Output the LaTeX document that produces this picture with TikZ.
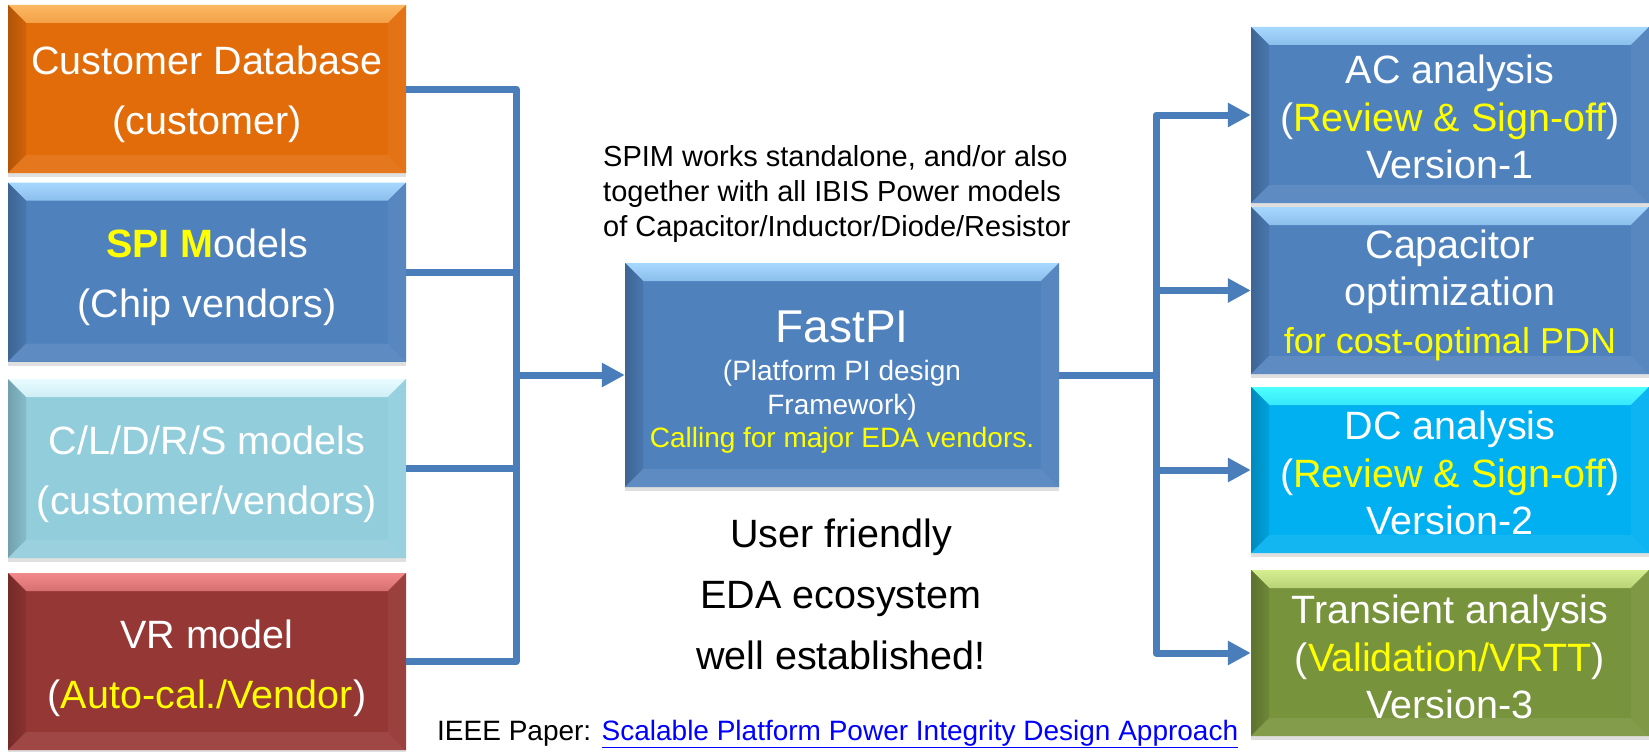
\documentclass[tikz,border=0pt]{standalone}
\usepackage{fontspec}
\setmainfont{Liberation Sans}
\usetikzlibrary{arrows.meta,shadows}

\definecolor{boxorange}{HTML}{E36C0A}
\definecolor{toporange}{HTML}{FBB862}
\definecolor{boxblue}{HTML}{4F81BD}
\definecolor{topblue}{HTML}{A6D8FF}
\definecolor{boxpale}{HTML}{92CDDC}
\definecolor{toppale}{HTML}{E8FCFF}
\definecolor{boxred}{HTML}{953735}
\definecolor{topred}{HTML}{F2898A}
\definecolor{boxcyan}{HTML}{00B0F0}
\definecolor{topcyan}{HTML}{4DFFFF}
\definecolor{boxgreen}{HTML}{77933C}
\definecolor{topgreen}{HTML}{D4EE90}
\definecolor{wire}{HTML}{4A7EBB}
\definecolor{linkblue}{HTML}{0000FF}
\definecolor{hilite}{HTML}{FFFF00}

\newcommand{\yel}[1]{\textcolor{hilite}{#1}}
\newcommand{\bevdepth}{18pt}
% pushes a box text down a little
\newcommand{\lift}[1]{\rule{0pt}{#1}}

\begin{document}
\begin{tikzpicture}[x=1pt,y=-1pt,
  bevel/.style 2 args={rectangle, inner sep=0pt, fill=#1, text=white, align=center,
    drop shadow={shadow xshift=0pt,shadow yshift=-4pt,opacity=0.25},
    path picture={
      \coordinate (bnw) at (path picture bounding box.north west);
      \coordinate (bne) at (path picture bounding box.north east);
      \coordinate (bsw) at (path picture bounding box.south west);
      \coordinate (bse) at (path picture bounding box.south east);
      \shade[top color=#2, bottom color=#2!70!#1] (bnw) -- (bne) -- ([xshift=-\bevdepth,yshift=-\bevdepth]bne) -- ([xshift=\bevdepth,yshift=-\bevdepth]bnw) -- cycle;
      \shade[left color=#1!78!black, right color=#1!92!black] (bnw) -- ([xshift=\bevdepth,yshift=-\bevdepth]bnw) -- ([xshift=\bevdepth,yshift=\bevdepth]bsw) -- (bsw) -- cycle;
      \fill[#1!92!white] (bsw) -- ([xshift=\bevdepth,yshift=\bevdepth]bsw) -- ([xshift=-\bevdepth,yshift=\bevdepth]bse) -- (bse) -- cycle;
      \fill[#1!95!white] (bse) -- ([xshift=-\bevdepth,yshift=\bevdepth]bse) -- ([xshift=-\bevdepth,yshift=-\bevdepth]bne) -- (bne) -- cycle;
    }},
  inbox/.style={minimum width=398pt, font=\fontsize{39.5}{60}\selectfont},
  outbox/.style={minimum width=398pt, font=\fontsize{39.5}{47.5}\selectfont},
  conn/.style={draw=wire, line width=7pt, line join=round},
  tip/.style={-{Triangle[length=23pt,width=23pt]}}
]
\path[use as bounding box, fill=white] (0,0) rectangle (1649,752);

% sources
\node[bevel={boxorange}{toporange}, inbox, minimum height=168pt] (cust) at (207,89) {\lift{39pt}Customer Database\\(customer)};
\node[bevel={boxblue}{topblue}, inbox, minimum height=179pt] (spim) at (207,272) {\lift{39pt}\textbf{\yel{SPI M}}odels\\(Chip vendors)};
\node[bevel={boxpale}{toppale}, inbox, minimum height=179pt] (cldrs) at (207,468.5) {\lift{41pt}C/L/D/R/S models\\(customer/vendors)};
\node[bevel={boxred}{topred}, inbox, minimum height=177pt] (vrm) at (207,661.5) {\lift{42pt}VR model\\(\yel{Auto-cal./Vendor})};

% framework
\node[bevel={boxblue}{topblue}, minimum width=434pt, minimum height=224pt, font=\fontsize{28}{33.5}\selectfont] (fastpi) at (842,375)
  {\lift{46pt}{\fontsize{46}{46}\selectfont FastPI}\\[4.5pt](Platform PI design\\Framework)\\\yel{Calling for major EDA vendors.}};

% analyses
\node[bevel={boxblue}{topblue}, outbox, minimum height=176pt] (acan) at (1450,115) {\lift{33pt}AC analysis\\(\yel{Review \& Sign-off})\\Version-1};
\node[bevel={boxblue}{topblue}, outbox, minimum height=167pt] (capopt) at (1450,290.5) {\lift{38pt}Capacitor\\optimization\\{\fontsize{36}{47.5}\selectfont\yel{for cost-optimal PDN}}};
\node[bevel={boxcyan}{topcyan}, outbox, minimum height=166pt] (dcan) at (1450,470) {\lift{35pt}DC analysis\\(\yel{Review \& Sign-off})\\Version-2};
\node[bevel={boxgreen}{topgreen}, outbox, minimum height=166pt] (trans) at (1450,653) {\lift{37pt}Transient analysis\\(\yel{Validation/VRTT})\\Version-3};

% texts
\node[anchor=north west, inner sep=0pt, align=left, font=\fontsize{29}{35}\selectfont] (spimnote) at (603,145)
  {SPIM works standalone, and/or also\\together with all IBIS Power models\\of Capacitor/Inductor/Diode/Resistor};
\node[anchor=north, inner sep=0pt, align=center, font=\fontsize{39.5}{61}\selectfont] (eco) at (841,519)
  {User friendly\\EDA ecosystem\\well established!};
\node[anchor=base west, inner sep=0pt, font=\fontsize{28}{33}\selectfont] (paper) at (437,740)
  {IEEE Paper: \textcolor{linkblue}{\underline{Scalable Platform Power Integrity Design Approach}}};

% connectors
\coordinate (lhub) at (516,375);
\coordinate (rhub) at (1156,375);
\draw[conn] (cust.east) -| (lhub);
\draw[conn] (spim.east) -| (lhub);
\draw[conn] (cldrs.east) -| (lhub);
\draw[conn] (vrm.east) -| (lhub);
\draw[conn,tip] (lhub) -- (fastpi.west);
\draw[conn] (fastpi.east) -- (rhub);
\draw[conn,tip] (rhub) |- (acan.west);
\draw[conn,tip] (rhub) |- (capopt.west);
\draw[conn,tip] (rhub) |- (dcan.west);
\draw[conn,tip] (rhub) |- (trans.west);
\end{tikzpicture}
\end{document}
